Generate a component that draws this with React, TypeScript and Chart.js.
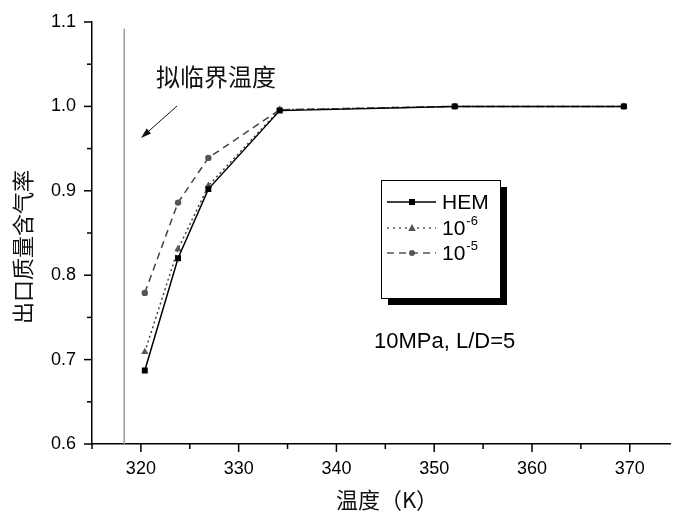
import React, { useEffect, useRef } from 'react';
import { Chart, registerables } from 'chart.js';

Chart.register(...registerables);

// ---- data ----
const temperatures = [320.4, 323.8, 326.9, 334.2, 352.1, 369.4];
const hemValues = [0.687, 0.82, 0.902, 0.995, 1.0, 1.0];
const e6Values = [0.709, 0.831, 0.906, 0.996, 1.0, 1.0];
const e5Values = [0.779, 0.886, 0.939, 0.996, 1.0, 1.0];
const pseudoCriticalT = 318.3;
const pseudoLineSpan = [0.6, 1.092];
const xTickValues = [315, 320, 325, 330, 335, 340, 345, 350, 355, 360, 365, 370];
const yTickValues = [0.6, 0.65, 0.7, 0.75, 0.8, 0.85, 0.9, 0.95, 1.0, 1.05, 1.1];
const seriesNames = ['HEM', '10', '10'];
const seriesSuperscripts = ['', '-6', '-5'];
const annotationText = '拟临界温度';
const noteText = '10MPa, L/D=5';
const xTitle = '温度（K）';
const yTitle = '出口质量含气率';

const SANS = '"Liberation Sans", Arial, sans-serif';
const CJK = '"Noto Sans CJK SC", sans-serif';

function drawMarker(ctx: CanvasRenderingContext2D, style: string, x: number, y: number, color: string) {
  ctx.save();
  ctx.fillStyle = color;
  ctx.beginPath();
  if (style === 'rect') {
    ctx.rect(x - 3, y - 3, 6, 6);
  } else if (style === 'triangle') {
    ctx.moveTo(x, y - 4);
    ctx.lineTo(x + 3.8, y + 3);
    ctx.lineTo(x - 3.8, y + 3);
    ctx.closePath();
  } else {
    ctx.arc(x, y, 3, 0, Math.PI * 2);
  }
  ctx.fill();
  ctx.restore();
}

const decorPlugin = {
  id: 'decor',
  afterDraw(chart: any) {
    const ctx: CanvasRenderingContext2D = chart.ctx;
    const xs = chart.scales.x;
    const ys = chart.scales.y;
    ctx.save();
    ctx.strokeStyle = '#000';
    ctx.lineWidth = 1.5;
    // tick marks
    xTickValues.forEach((v) => {
      const px = xs.getPixelForValue(v);
      const major = Math.round(v) % 10 === 0;
      ctx.beginPath();
      ctx.moveTo(px, ys.bottom);
      ctx.lineTo(px, ys.bottom + (major ? 8 : 5));
      ctx.stroke();
    });
    yTickValues.forEach((v) => {
      const py = ys.getPixelForValue(v);
      const major = Math.round(v * 100) % 10 === 0;
      ctx.beginPath();
      ctx.moveTo(xs.left, py);
      ctx.lineTo(xs.left - (major ? 8 : 5), py);
      ctx.stroke();
    });

    // axis titles
    ctx.fillStyle = '#111';
    ctx.font = `22px ${CJK}`;
    ctx.textAlign = 'center';
    ctx.textBaseline = 'middle';
    ctx.fillText(xTitle, 387, 500);
    ctx.save();
    ctx.translate(23, 247);
    ctx.rotate(-Math.PI / 2);
    ctx.fillText(yTitle, 0, 0);
    ctx.restore();

    // annotation
    ctx.font = `24px ${CJK}`;
    ctx.fillText(annotationText, 216, 77);
    // arrow
    const ax0 = 177, ay0 = 106, ax1 = 141, ay1 = 138;
    ctx.lineWidth = 1;
    ctx.strokeStyle = '#111';
    ctx.beginPath();
    ctx.moveTo(ax0, ay0);
    ctx.lineTo(ax1 + 6, ay1 - 5.3);
    ctx.stroke();
    const ang = Math.atan2(ay1 - ay0, ax1 - ax0);
    ctx.beginPath();
    ctx.moveTo(ax1, ay1);
    ctx.lineTo(ax1 - 11 * Math.cos(ang - 0.3), ay1 - 11 * Math.sin(ang - 0.3));
    ctx.lineTo(ax1 - 11 * Math.cos(ang + 0.3), ay1 - 11 * Math.sin(ang + 0.3));
    ctx.closePath();
    ctx.fillStyle = '#111';
    ctx.fill();

    // note
    ctx.font = `22px ${SANS}`;
    ctx.textAlign = 'left';
    ctx.fillStyle = '#000';
    ctx.fillText(noteText, 374, 342);

    // legend box with shadow
    const bx = 381, by = 180, bw = 119, bh = 118;
    ctx.fillStyle = '#000';
    ctx.fillRect(bx + 7, by + 7, bw, bh);
    ctx.fillStyle = '#fff';
    ctx.fillRect(bx, by, bw, bh);
    ctx.strokeStyle = '#000';
    ctx.lineWidth = 1;
    ctx.strokeRect(bx + 0.5, by + 0.5, bw, bh);

    const rows = [202, 228, 253];
    const styles = ['rect', 'triangle', 'circle'];
    const colors = ['#000', '#555', '#555'];
    const dashes = [[], [2, 4], [7, 5]];
    rows.forEach((ry, i) => {
      ctx.save();
      ctx.strokeStyle = colors[i];
      ctx.lineWidth = 1.3;
      ctx.setLineDash(dashes[i]);
      ctx.beginPath();
      ctx.moveTo(387, ry);
      ctx.lineTo(436, ry);
      ctx.stroke();
      ctx.restore();
      drawMarker(ctx, styles[i], 412, ry, colors[i]);
      ctx.fillStyle = '#000';
      ctx.font = `21px ${SANS}`;
      ctx.textAlign = 'left';
      ctx.textBaseline = 'middle';
      ctx.fillText(seriesNames[i], 442, ry + 1);
      if (seriesSuperscripts[i]) {
        const w = ctx.measureText(seriesNames[i]).width;
        ctx.font = `13px ${SANS}`;
        ctx.fillText(seriesSuperscripts[i], 442 + w + 1, ry - 7);
      }
    });
    ctx.restore();
  },
};

export default function App() {
  const ref = useRef<HTMLCanvasElement | null>(null);
  useEffect(() => {
    document.body.style.margin = '0';
    const canvas = ref.current!;
    const toPts = (vals: number[]) => temperatures.map((t, i) => ({ x: t, y: vals[i] }));
    const chart = new Chart(canvas, {
      type: 'line',
      data: {
        datasets: [
          {
            label: 'pseudo',
            data: pseudoLineSpan.map((v) => ({ x: pseudoCriticalT, y: v })),
            borderColor: '#9a9a9a',
            borderWidth: 1.5,
            pointRadius: 0,
          },
          {
            label: 'HEM',
            data: toPts(hemValues),
            borderColor: '#000',
            backgroundColor: '#000',
            borderWidth: 1.5,
            pointStyle: 'rect',
            pointRadius: 4.2,
            pointBorderWidth: 0,
          },
          {
            label: '1e-6',
            data: toPts(e6Values),
            borderColor: '#444',
            backgroundColor: '#555',
            borderWidth: 1.5,
            borderDash: [2, 3],
            pointStyle: 'triangle',
            pointRadius: 4.2,
            pointBorderWidth: 0,
          },
          {
            label: '1e-5',
            data: toPts(e5Values),
            borderColor: '#444',
            backgroundColor: '#555',
            borderWidth: 1.5,
            borderDash: [7, 5],
            pointStyle: 'circle',
            pointRadius: 3.2,
            pointBorderWidth: 0,
          },
        ],
      },
      options: {
        responsive: false,
        animation: false,
        layout: { padding: { left: 0, right: 0, top: 22, bottom: 0 } },
        plugins: { legend: { display: false }, tooltip: { enabled: false } },
        scales: {
          x: {
            type: 'linear',
            min: 315,
            max: 374.2,
            grid: { display: false, drawTicks: false },
            border: { display: true, color: '#000', width: 1.5 },
            afterBuildTicks: (s: any) => {
              s.ticks = xTickValues.map((v) => ({ value: v }));
            },
            afterFit: (s: any) => {
              s.height = 70;
              s.paddingLeft = 0;
              s.paddingRight = 0;
            },
            ticks: {
              autoSkip: false,
              maxRotation: 0,
              padding: 14,
              color: '#000',
              font: { family: SANS, size: 18 },
              callback: (v: any) => (Math.round(v) % 10 === 0 ? String(v) : ''),
            },
          },
          y: {
            type: 'linear',
            min: 0.6,
            max: 1.1,
            grid: { display: false, drawTicks: false },
            border: { display: true, color: '#000', width: 1.5 },
            afterBuildTicks: (s: any) => {
              s.ticks = yTickValues.map((v) => ({ value: v }));
            },
            afterFit: (s: any) => {
              s.width = 92;
              s.paddingTop = 0;
              s.paddingBottom = 0;
            },
            ticks: {
              autoSkip: false,
              padding: 16,
              color: '#000',
              font: { family: SANS, size: 18 },
              callback: (v: any) => (Math.round(v * 100) % 10 === 0 ? Number(v).toFixed(1) : ''),
            },
          },
        },
      },
      plugins: [decorPlugin],
    });
    return () => chart.destroy();
  }, []);
  return <canvas ref={ref} width={675} height={514} style={{ display: 'block', width: 675, height: 514 }} />;
}
